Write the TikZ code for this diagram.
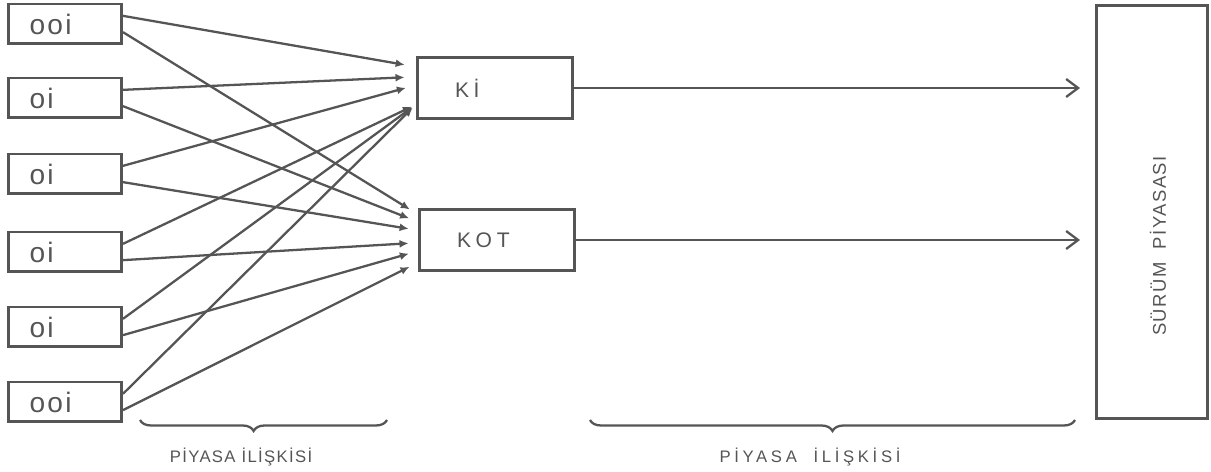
\documentclass[tikz,border=0pt]{standalone}
\usepackage{fontspec}
\setmainfont{Liberation Sans}
\newfontfamily\lblfont[LetterSpace=8]{Liberation Sans}
\newfontfamily\widefont[LetterSpace=22]{Liberation Sans}
\usepackage{tikz}
\usetikzlibrary{arrows.meta}
\usetikzlibrary{decorations.pathreplacing}
\definecolor{ink}{RGB}{85,85,85}

\begin{document}
\begin{tikzpicture}[x=0.02cm,y=-0.02cm,
  kutu/.style={draw=ink,line width=1.7pt,minimum width=2.26cm,minimum height=0.8cm,inner xsep=0.42cm,text width=1.42cm,align=left,text=ink,font=\fontsize{16}{18}\selectfont\lblfont},
  merkez/.style={draw=ink,line width=1.7pt,minimum width=3.12cm,minimum height=1.22cm,inner xsep=0.76cm,text width=1.6cm,align=left,text=ink,font=\fontsize{12}{14}\selectfont\widefont},
  giris/.style={draw=ink,line width=1.3pt,-{Latex[length=0.18cm,width=0.16cm]}},
  cikis/.style={draw=ink,line width=1.3pt,-{Straight Barb[length=0.24cm,width=0.36cm]},shorten >=0.3cm},
  kume/.style={draw=ink,line width=1.3pt,decorate,decoration={brace,mirror,amplitude=0.22cm}},
  etiket/.style={text=ink,font=\fontsize{9.5}{11}\selectfont\lblfont}]
\useasboundingbox (0,0) rectangle (1211,472);
\foreach \i/\y/\t in {1/24/ooi,2/98/oi,3/174/oi,4/252/oi,5/327/oi,6/402/ooi}
  \node[kutu] (b\i) at (65,\y) {\t};
\node[merkez] (ki) at (495,88) {Kİ};
\node[merkez] (kot) at (497,240) {KOT};
\node[draw=ink,line width=1.7pt,minimum width=2.22cm,minimum height=8.26cm] (sp) at (1152,212) {};
\node[rotate=90,text=ink,font=\fontsize{10.5}{12}\selectfont\lblfont] (sptext) at (1158,246) {SÜRÜM\ \ PİYASASI};
\foreach \i/\a/\s/\b in {1/165/0.22/162,2/172/0.22/167,3/178/0.2/173,4/192/0.08/182,5/192/0.08/188,6/192/0.08/196}{
  \draw[giris,shorten >=\s cm] (b\i.8) -- (ki.\a);
  \draw[giris,shorten >=0.18cm] (b\i.-8) -- (kot.\b);
}
\draw[cikis] (ki.east) -- (ki.east -| sp.west);
\draw[cikis] (kot.east) -- (kot.east -| sp.west);
\coordinate (k1a) at (140,420);
\coordinate (k1b) at (387,420);
\coordinate (k2a) at (590,420);
\coordinate (k2b) at (1075,420);
\draw[kume,decoration={aspect=0.46}] (k1a) -- (k1b);
\draw[kume] (k2a) -- (k2b);
\node[etiket] (pl1) at (241,457) {PİYASA İLİŞKİSİ};
\node[etiket,font=\fontsize{9.5}{11}\selectfont\widefont] (pl2) at (810,457) {PİYASA\ \ İLİŞKİSİ};
\end{tikzpicture}
\end{document}
